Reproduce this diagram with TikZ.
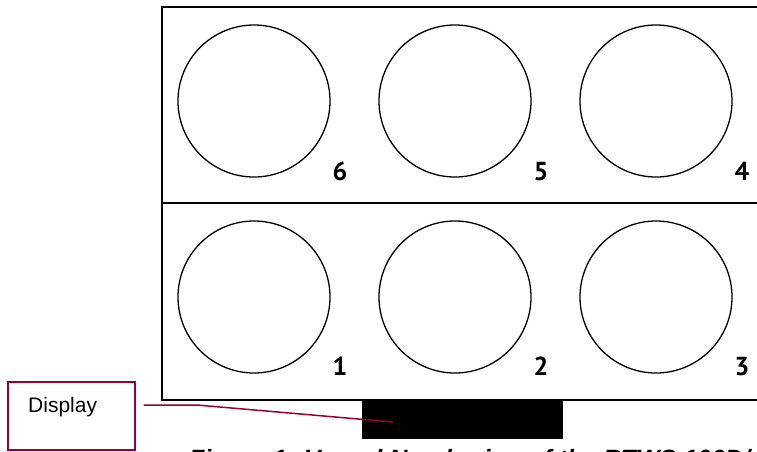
\documentclass[tikz,border=0pt]{standalone}
\usepackage{fontspec}
\setmainfont{Liberation Sans}
\newfontfamily\digitfont{PT Sans}
\definecolor{wine}{RGB}{150,0,50}
\begin{document}
\begin{tikzpicture}[x=1pt,y=-1pt,
  vessel/.style={circle,draw,line width=1.3pt,minimum size=152pt,inner sep=0pt},
  num/.style={font=\digitfont\bfseries\fontsize{26}{26}\selectfont,inner sep=0pt,anchor=base},
  frame/.style={line width=2pt},
  callout/.style={draw=wine,line width=1.5pt},
  leader/.style={draw=wine,line width=1.5pt},
]
\useasboundingbox (0,0) rectangle (757,451);
\clip (0,0) rectangle (757,451);
% frame
\draw[frame] (800,7) -- (162,7) -- (162,400) -- (800,400);
\draw[frame] (162,203) -- (800,203);
% vessels
\node[vessel] (v6) at (254,101) {};
\node[vessel] (v5) at (455,101) {};
\node[vessel] (v4) at (656,101) {};
\node[vessel] (v1) at (254,297) {};
\node[vessel] (v2) at (455,297) {};
\node[vessel] (v3) at (656,297) {};
% numbers
\node[num] (n6) at (340,180) {6};
\node[num] (n5) at (541,180) {5};
\node[num] (n4) at (742,180) {4};
\node[num] (n1) at (340,375) {1};
\node[num] (n2) at (541,375) {2};
\node[num] (n3) at (742,375) {3};
% display
\node[fill=black,minimum width=201pt,minimum height=40pt,inner sep=0pt,anchor=north west] (disp) at (362,399) {};
\node[callout,minimum width=127pt,minimum height=68pt,inner sep=0pt,anchor=north west] (dbox) at (7,381) {};
\node[font=\fontsize{21}{21}\selectfont,anchor=base west,inner sep=0pt] (dlabel) at (28,412) {Display};
\coordinate (c0) at ([xshift=8pt]dbox.east |- 0,405);
\coordinate (c1) at (197,405);
\coordinate (c2) at (393,422);
\draw[leader] (c0) -- (c1) -- (c2);
% caption
\node[font=\bfseries\itshape\fontsize{25}{25}\selectfont,anchor=base west,inner sep=0pt] (cap) at (189,467) {Figure 1: Vessel Numbering of the RTWS 100D/};
\end{tikzpicture}
\end{document}
